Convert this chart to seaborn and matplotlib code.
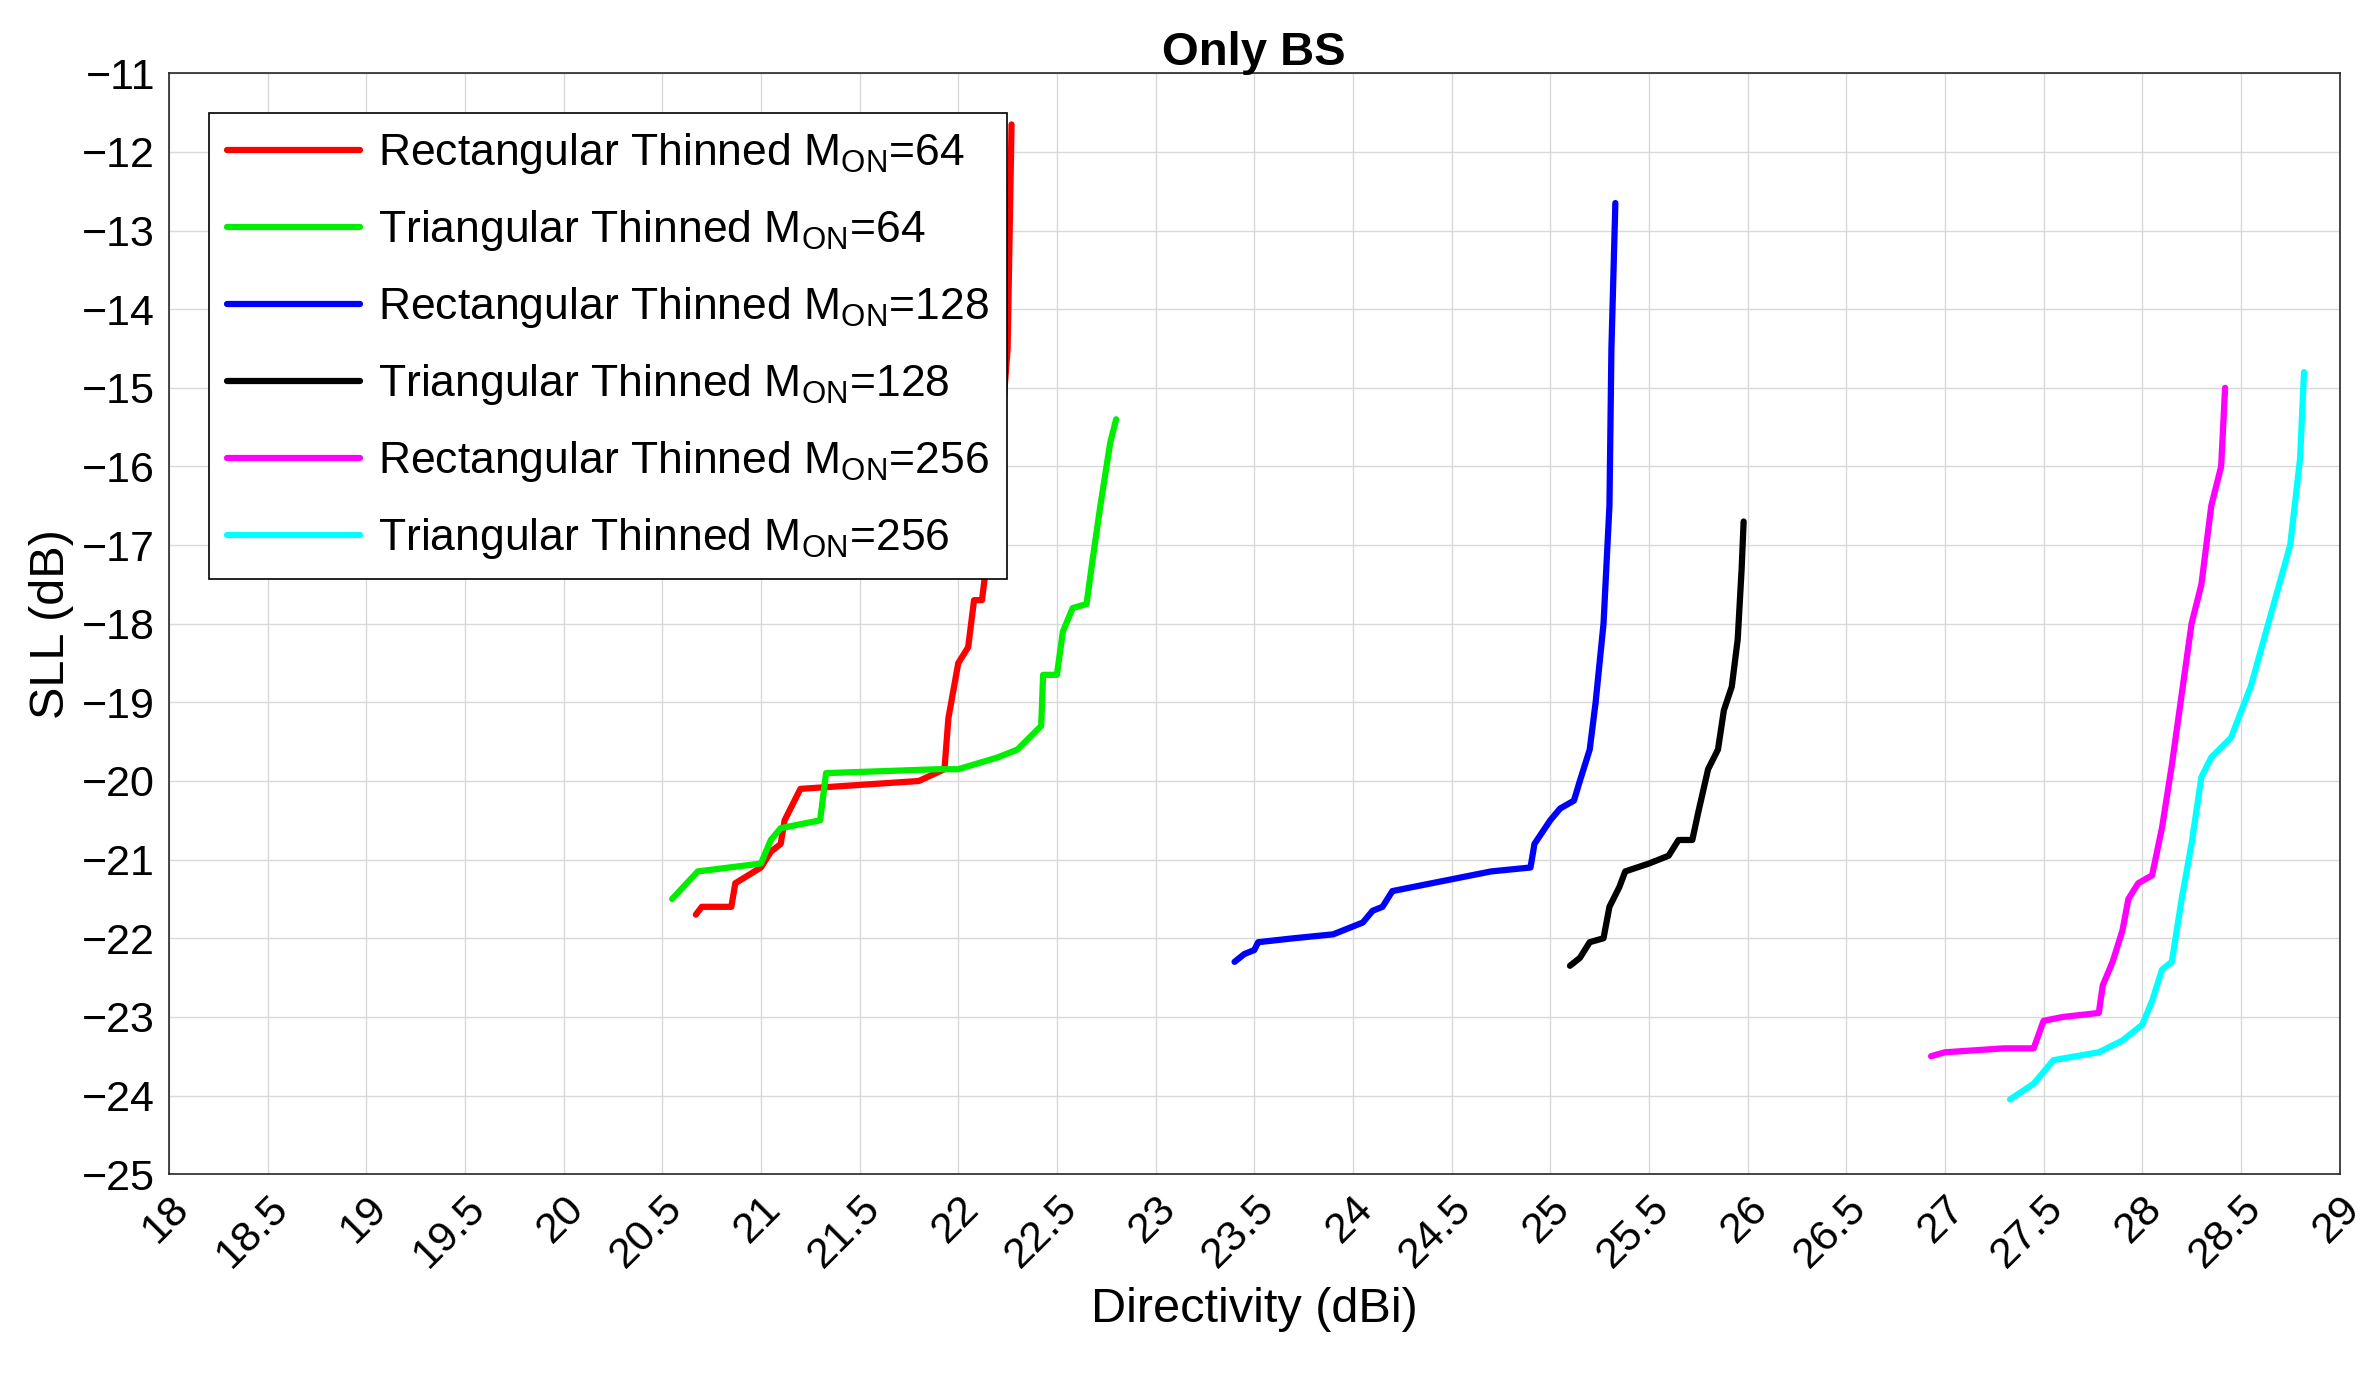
import matplotlib
matplotlib.use("Agg")
import matplotlib.pyplot as plt
import numpy as np
import pandas as pd
import seaborn as sns

# ---------------------------------------------------------------------------
# Data
# ---------------------------------------------------------------------------
rect64_d = [20.67, 20.7, 20.85, 20.87, 21.0, 21.05, 21.1, 21.12, 21.2, 21.5, 21.8, 21.93,
            21.95, 22.0, 22.05, 22.08, 22.12, 22.15, 22.2, 22.22, 22.25, 22.27]
rect64_s = [-21.7, -21.6, -21.6, -21.3, -21.1, -20.9, -20.8, -20.5, -20.1, -20.05, -20.0, -19.85,
            -19.2, -18.5, -18.3, -17.7, -17.7, -17.1, -16.4, -15.5, -14.5, -11.65]

tri64_d = [20.55, 20.68, 21.0, 21.05, 21.1, 21.3, 21.33, 21.9, 22.0, 22.2, 22.3, 22.42,
           22.43, 22.5, 22.53, 22.58, 22.65, 22.68, 22.72, 22.77, 22.8]
tri64_s = [-21.5, -21.15, -21.05, -20.75, -20.6, -20.5, -19.9, -19.85, -19.85, -19.7, -19.6, -19.3,
           -18.65, -18.65, -18.1, -17.8, -17.75, -17.2, -16.5, -15.7, -15.4]

rect128_d = [23.4, 23.45, 23.5, 23.52, 23.7, 23.9, 24.0, 24.05, 24.1, 24.15, 24.2, 24.5, 24.7,
             24.9, 24.92, 25.0, 25.05, 25.12, 25.15, 25.2, 25.23, 25.27, 25.3, 25.31, 25.33]
rect128_s = [-22.3, -22.2, -22.15, -22.05, -22.0, -21.95, -21.85, -21.8, -21.65, -21.6, -21.4,
             -21.25, -21.15, -21.1, -20.8, -20.5, -20.35, -20.25, -20.0, -19.6, -19.0, -18.0,
             -16.5, -14.5, -12.65]

tri128_d = [25.1, 25.15, 25.2, 25.27, 25.3, 25.35, 25.38, 25.5, 25.6, 25.65, 25.72, 25.75,
            25.8, 25.85, 25.88, 25.92, 25.95, 25.97, 25.98]
tri128_s = [-22.35, -22.25, -22.05, -22.0, -21.6, -21.35, -21.15, -21.05, -20.95, -20.75, -20.75,
            -20.4, -19.85, -19.6, -19.1, -18.8, -18.2, -17.3, -16.7]

rect256_d = [26.93, 27.0, 27.3, 27.45, 27.5, 27.6, 27.78, 27.8, 27.85, 27.9, 27.93, 27.98,
             28.05, 28.1, 28.15, 28.2, 28.25, 28.3, 28.35, 28.4, 28.42]
rect256_s = [-23.5, -23.45, -23.4, -23.4, -23.05, -23.0, -22.95, -22.6, -22.3, -21.9, -21.5,
             -21.3, -21.2, -20.6, -19.8, -18.9, -18.0, -17.5, -16.5, -16.0, -15.0]

tri256_d = [27.33, 27.45, 27.5, 27.55, 27.78, 27.9, 28.0, 28.05, 28.1, 28.15, 28.2, 28.25,
            28.3, 28.35, 28.45, 28.55, 28.65, 28.75, 28.8, 28.82]
tri256_s = [-24.05, -23.85, -23.7, -23.55, -23.45, -23.3, -23.1, -22.8, -22.4, -22.3, -21.5,
            -20.8, -19.95, -19.7, -19.45, -18.8, -17.9, -17.0, -15.9, -14.8]

series = [
    ("Rectangular Thinned M$_{\\mathrm{ON}}$=64", rect64_d, rect64_s, "#ff0000"),
    ("Triangular Thinned M$_{\\mathrm{ON}}$=64", tri64_d, tri64_s, "#00ee00"),
    ("Rectangular Thinned M$_{\\mathrm{ON}}$=128", rect128_d, rect128_s, "#0000ff"),
    ("Triangular Thinned M$_{\\mathrm{ON}}$=128", tri128_d, tri128_s, "#000000"),
    ("Rectangular Thinned M$_{\\mathrm{ON}}$=256", rect256_d, rect256_s, "#ff00ff"),
    ("Triangular Thinned M$_{\\mathrm{ON}}$=256", tri256_d, tri256_s, "#00ffff"),
]

# ---------------------------------------------------------------------------
# Plot
# ---------------------------------------------------------------------------
sns.set_style("white")
plt.rcParams["font.family"] = ["Liberation Sans", "DejaVu Sans"]
plt.rcParams["mathtext.fontset"] = "custom"
plt.rcParams["mathtext.rm"] = "Liberation Sans"
plt.rcParams["text.color"] = "black"
plt.rcParams["axes.labelcolor"] = "black"
plt.rcParams["xtick.color"] = "black"
plt.rcParams["ytick.color"] = "black"

fig, ax = plt.subplots(figsize=(23.8, 13.83), dpi=100)
for label, d, s, c in series:
    df = pd.DataFrame({"d": d, "s": s})
    sns.lineplot(data=df, x="d", y="s", sort=False, color=c, lw=4.5, label=label, ax=ax)

xt = np.arange(18, 29.01, 0.5)
ax.set_xlim(18, 29)
ax.set_ylim(-25, -11)
ax.set_xticks(xt)
ax.set_xticklabels([f"{v:g}" for v in xt], rotation=45, fontsize=31,
                   ha="right", rotation_mode="anchor")
ax.set_yticks(np.arange(-25, -10.9, 1))
ax.set_yticklabels([f"\u2212{abs(v)}" for v in range(-25, -10)], fontsize=31)
ax.tick_params(direction="in", length=8, pad=10)
ax.grid(True, color="#d9d9d9", lw=1)
for sp in ax.spines.values():
    sp.set_color("#262626")
    sp.set_linewidth(1.2)

ax.set_title("Only BS", fontsize=34, fontweight="bold", pad=6)
ax.set_xlabel("Directivity (dBi)", fontsize=35, labelpad=8)
ax.set_ylabel("SLL (dB)", fontsize=35, labelpad=6)

leg = ax.legend(loc="upper left", fontsize=32, frameon=True, fancybox=False,
                edgecolor="black", handlelength=3, labelspacing=0.72,
                borderaxespad=0.9, handletextpad=0.4)
leg.get_frame().set_linewidth(1.2)
leg.get_frame().set_alpha(1)

plt.subplots_adjust(left=0.071, right=0.983, top=0.947, bottom=0.151)
plt.savefig("out.png", dpi=100)
plt.close()
